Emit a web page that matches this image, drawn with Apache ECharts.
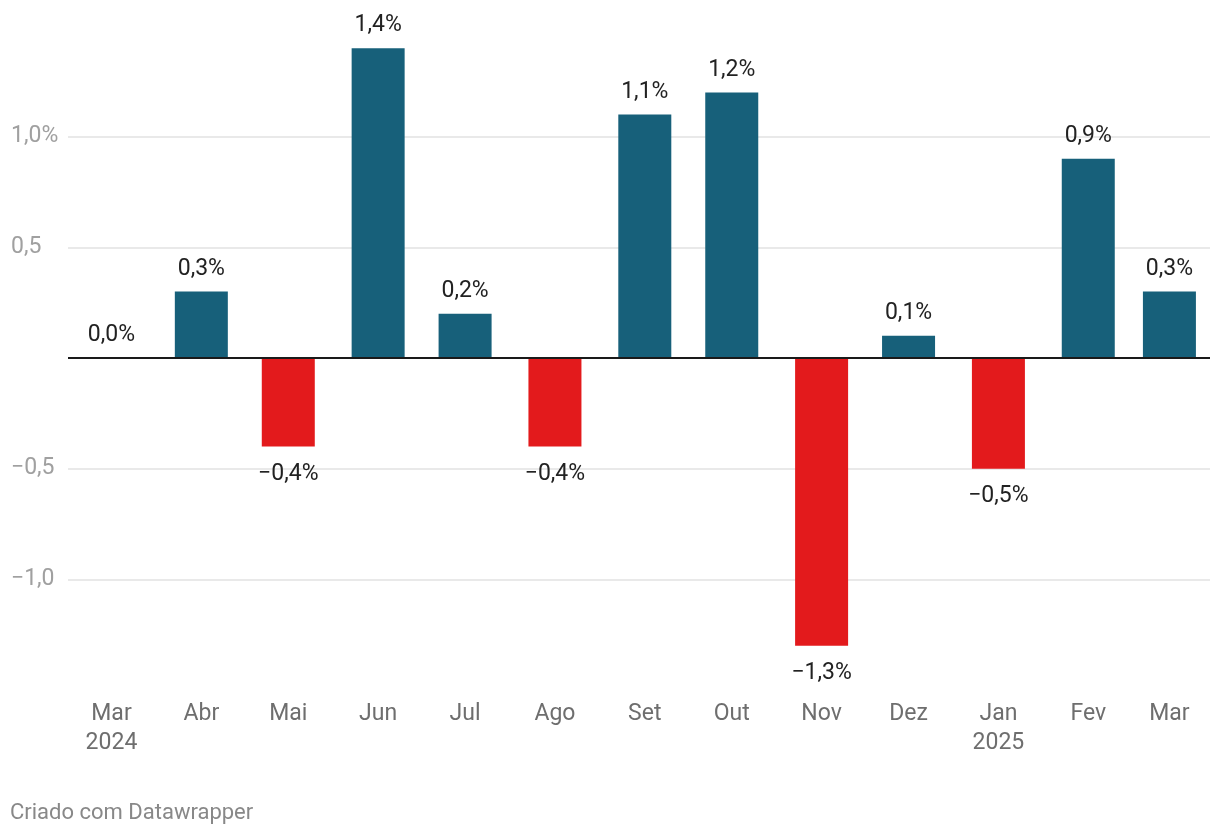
<!DOCTYPE html>
<html>
<head>
<meta charset="utf-8">
<script src="https://cdn.jsdelivr.net/npm/echarts@6/dist/echarts.min.js"></script>
<style>
html,body{margin:0;padding:0;background:#fff;}
#chart{width:1220px;height:838px;}
</style>
</head>
<body>
<div id="chart"></div>
<script>
// Data
const monthYears = [2024,2024,2024,2024,2024,2024,2024,2024,2024,2024,2025,2025,2025];
const monthIdx   = [2,3,4,5,6,7,8,9,10,11,0,1,2];
const values     = [0.0,0.3,-0.4,1.4,0.2,-0.4,1.1,1.2,-1.3,0.1,-0.5,0.9,0.3];
const xTickLabels = ['Mar\n2024','Abr','Mai','Jun','Jul','Ago','Set','Out','Nov','Dez','Jan\n2025','Fev','Mar'];
const yTicks = [-1.0,-0.5,0.5,1.0];
const yTickLabels = ['\u22121,0','\u22120,5','0,5','1,0%'];

const BLUE = '#17607a';
const RED = '#e31a1c';
const DAY = 86400000;

// x positions as day offsets from the first month (real calendar spacing)
const base = Date.UTC(monthYears[0], monthIdx[0], 1);
const days = monthYears.map((y,i)=>Math.round((Date.UTC(y, monthIdx[i], 1) - base) / DAY));
const labelByDay = {};
days.forEach((d,i)=>{ labelByDay[d] = xTickLabels[i]; });

function fmt(v){
  return v.toFixed(1).replace('.', ',').replace('-', '\u2212') + '%';
}

const chart = echarts.init(document.getElementById('chart'), null, {renderer:'canvas'});
chart.setOption({
  animation: false,
  backgroundColor: '#fff',
  textStyle: {fontFamily: 'Roboto'},
  grid: {left: 68, right: 10, top: 26, bottom: 148},
  xAxis: {
    type: 'value',
    min: -15,
    max: days[days.length-1] + 14,
    axisLine: {show: false},
    axisTick: {show: false},
    splitLine: {show: false},
    axisLabel: {
      customValues: days,
      formatter: function(v){ return labelByDay[Math.round(v)] || ''; },
      color: '#6e6e6e',
      fontSize: 23,
      lineHeight: 29,
      margin: 10,
      fontFamily: 'Roboto',
      hideOverlap: false,
      showMinLabel: true,
      showMaxLabel: true
    }
  },
  yAxis: {
    type: 'value',
    min: -1.5,
    max: 1.5,
    interval: 0.5,
    axisLine: {show: false},
    axisTick: {show: false},
    splitLine: {
      show: true,
      lineStyle: {
        color: ['rgba(0,0,0,0)','#e2e2e2','#e2e2e2','rgba(0,0,0,0)','#e2e2e2','#e2e2e2','rgba(0,0,0,0)'],
        width: 1.5
      }
    },
    axisLabel: {
      align: 'left',
      margin: 57,
      color: '#a0a0a0',
      fontSize: 23,
      fontFamily: 'Roboto',
      padding: [4, 0, 0, 0],
      formatter: function(v){
        for (let i=0;i<yTicks.length;i++){ if (Math.abs(yTicks[i]-v) < 1e-9) return yTickLabels[i]; }
        return '';
      }
    }
  },
  series: [{
    type: 'bar',
    barWidth: 53,
    data: days.map((d,i)=>({
      value: [d, values[i]],
      itemStyle: {color: values[i] < 0 ? RED : BLUE},
      label: values[i] < 0 ? {position: 'bottom', distance: 16} : {position: 'top', distance: 11}
    })),
    label: {
      show: true,
      color: '#222',
      fontSize: 23,
      fontFamily: 'Roboto',
      formatter: function(p){ return fmt(p.value[1]); }
    },
    markLine: {
      silent: true,
      symbol: 'none',
      label: {show: false},
      lineStyle: {color: '#1a1a1a', width: 2, type: 'solid'},
      data: [{yAxis: 0}]
    }
  }],
  graphic: [{
    type: 'text',
    left: 10,
    top: 802,
    style: {text: 'Criado com Datawrapper', fill: '#888', fontSize: 22, fontFamily: 'Roboto'}
  }]
});
</script>
</body>
</html>
